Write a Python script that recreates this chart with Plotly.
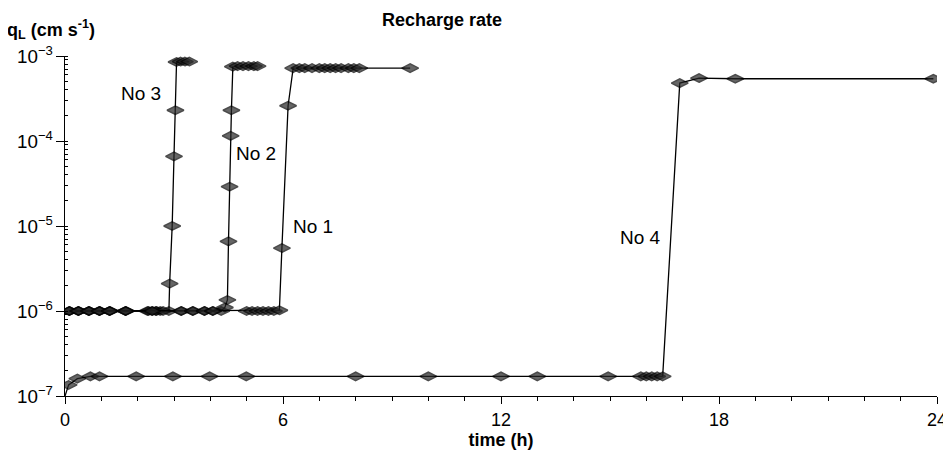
import plotly.graph_objects as go

# ---- data (time in h, recharge rate q_L in cm/s) ----
t_no3 = [0.12, 0.37, 0.66, 0.95, 1.23, 1.67, 2.27, 2.4, 2.52, 2.62, 2.86, 2.88, 2.95, 3.00, 3.04, 3.07, 3.18, 3.30, 3.42]
q_no3 = [1e-6, 1e-6, 1e-6, 1e-6, 1e-6, 1e-6, 1e-6, 1e-6, 1e-6, 1e-6, 1e-6, 2.1e-6, 1.0e-5, 6.6e-5, 2.3e-4, 8.5e-4, 8.6e-4, 8.6e-4, 8.6e-4]

t_no2 = [0.12, 0.37, 0.66, 0.95, 1.23, 1.67, 2.3, 2.5, 2.7, 3.2, 3.52, 3.84, 4.07, 4.3, 4.4, 4.47, 4.50, 4.53, 4.56, 4.58, 4.62, 4.75, 4.9, 5.05, 5.2, 5.3]
q_no2 = [1e-6, 1e-6, 1e-6, 1e-6, 1e-6, 1e-6, 1e-6, 1e-6, 1e-6, 1e-6, 1e-6, 1e-6, 1e-6, 1e-6, 1.1e-6, 1.35e-6, 6.6e-6, 2.9e-5, 1.15e-4, 2.3e-4, 7.5e-4, 7.6e-4, 7.6e-4, 7.6e-4, 7.6e-4, 7.6e-4]

t_no1 = [0.12, 0.37, 0.66, 0.95, 1.23, 1.67, 2.4, 3.2, 3.52, 3.84, 4.07, 5.0, 5.15, 5.3, 5.45, 5.6, 5.75, 5.9, 5.97, 6.14, 6.28, 6.45, 6.6, 6.8, 7.0, 7.15, 7.3, 7.45, 7.6, 7.8, 7.95, 8.1, 9.5]
q_no1 = [1e-6, 1e-6, 1e-6, 1e-6, 1e-6, 1e-6, 1e-6, 1e-6, 1e-6, 1e-6, 1e-6, 1e-6, 1e-6, 1e-6, 1e-6, 1e-6, 1e-6, 1.02e-6, 5.5e-6, 2.6e-4, 7.2e-4, 7.2e-4, 7.2e-4, 7.2e-4, 7.2e-4, 7.2e-4, 7.2e-4, 7.2e-4, 7.2e-4, 7.2e-4, 7.2e-4, 7.2e-4, 7.2e-4]

t_no4 = [0.0, 0.1, 0.34, 0.7, 0.95, 1.96, 2.97, 3.98, 4.99, 8.0, 10.0, 12.0, 13.0, 14.95, 15.85, 16.0, 16.15, 16.3, 16.45, 16.92, 17.45, 18.45, 23.9]
q_no4 = [1e-7, 1.35e-7, 1.6e-7, 1.7e-7, 1.7e-7, 1.7e-7, 1.7e-7, 1.7e-7, 1.7e-7, 1.7e-7, 1.7e-7, 1.7e-7, 1.7e-7, 1.7e-7, 1.7e-7, 1.7e-7, 1.7e-7, 1.7e-7, 1.7e-7, 4.8e-4, 5.5e-4, 5.4e-4, 5.4e-4]

series_names = ["No 3", "No 2", "No 1", "No 4"]
label_t = [2.1, 5.25, 6.82, 15.85]
label_log_q = [-3.44, -4.15, -5.0, -5.13]   # log10 of q at the label centre

x_ticks = [0, 6, 12, 18, 24]

FONT = "Liberation Sans, Arial, Helvetica, sans-serif"
NARROW = "Liberation Sans Narrow, Liberation Sans, Arial, sans-serif"

# page body has an 8px margin; figure sized to fit the window
OFF = 8
W, H = 951 - OFF, 455 - OFF
L, T = 65 - OFF, 56 - OFF
R = W - (937 - OFF)
B = H - (396 - OFF)
PW, PH = W - L - R, H - T - B


def px_x(x):
    return (x - OFF - L) / PW


def px_y(y):
    return 1 - (y - OFF - T) / PH


fig = go.Figure()
all_series = [(t_no3, q_no3), (t_no2, q_no2), (t_no1, q_no1), (t_no4, q_no4)]
for name, (ts, qs) in zip(series_names, all_series):
    sizes = [12] * len(ts)
    if name == "No 4":
        sizes[0] = 0
    fig.add_trace(go.Scatter(
        x=ts, y=qs, name=name, mode="lines+markers",
        line=dict(color="black", width=1.3),
        marker=dict(symbol="diamond-wide", size=sizes, color="#262626",
                    line=dict(color="#000000", width=1.5)),
        showlegend=False,
    ))

for name, lt, lq in zip(series_names, label_t, label_log_q):
    fig.add_annotation(x=lt, y=lq, xref="x", yref="y", text=name, showarrow=False,
                       font=dict(family=FONT, size=19, color="black"),
                       xanchor="center", yanchor="middle")

fig.add_annotation(x=px_x(442), y=px_y(20), xref="paper", yref="paper",
                   text="<b>Recharge rate</b>", showarrow=False,
                   font=dict(family=FONT, size=18, color="black"),
                   xanchor="center", yanchor="middle")
fig.add_annotation(x=px_x(5), y=px_y(29), xref="paper", yref="paper",
                   text="<b>q<sub>L</sub> (cm s<sup>-1</sup>)</b>", showarrow=False,
                   font=dict(family=FONT, size=18, color="black"),
                   xanchor="left", yanchor="middle")

fig.update_layout(
    width=W, height=H,
    margin=dict(l=L, r=R, t=T, b=B, autoexpand=False),
    paper_bgcolor="white", plot_bgcolor="white",
    font=dict(family=FONT, color="black"),
)

fig.update_xaxes(
    range=[0, 24], tickvals=x_ticks, ticktext=[str(v) for v in x_ticks],
    ticks="outside", ticklen=7, tickwidth=1, tickcolor="black",
    minor=dict(dtick=1, ticks="outside", ticklen=4, tickcolor="black", showgrid=False),
    showline=True, linecolor="black", linewidth=1.2, showgrid=False, zeroline=False,
    tickfont=dict(family=NARROW, size=18, color="black"),
    title=dict(text="<b>time (h)</b>", font=dict(family=NARROW, size=18, color="black"), standoff=2),
    automargin=False,
)
fig.update_yaxes(
    type="log", range=[-7, -3], dtick=1, exponentformat="power",
    ticks="outside", ticklen=8, tickwidth=1, tickcolor="black",
    minor=dict(dtick="D1", ticks="inside", ticklen=3, tickcolor="black", showgrid=False),
    showline=True, linecolor="black", linewidth=1.2, showgrid=False, zeroline=False,
    tickfont=dict(family=FONT, size=15, color="black"),
    automargin=False,
)

fig.write_html("out.html")
